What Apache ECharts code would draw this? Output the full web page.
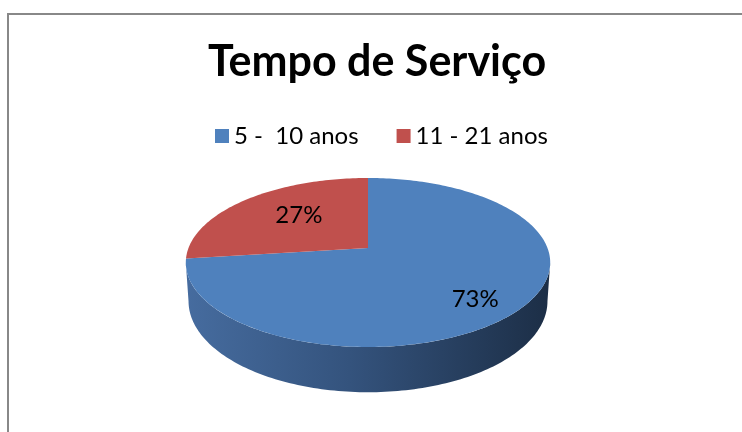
<!DOCTYPE html>
<html lang="pt">
<head>
    <meta charset="utf-8">
    <title>Tempo de Serviço</title>
    <script src="https://cdn.jsdelivr.net/npm/echarts@6/dist/echarts.min.js"></script>
    <style>
        html, body { margin: 0; padding: 0; background: #fff; }
        #chart { width: 742px; height: 432px; }
    </style>
</head>
<body>
<div id="chart"></div>
<script type="text/javascript">
    // dados
    var categories = ['5 -  10 anos', '11 - 21 anos'];
    var values = [73, 27];
    var colors = ['#4F81BD', '#C0504D'];

    // geometria da "pizza 3D" (perspectiva simples)
    var CX = 368, CY = 248, RX = 179.5, RY = 82, K = 0.1716, DEPTH = 37.5;
    var FRONT0 = Math.acos(-K), FRONT1 = 2 * Math.PI - FRONT0;
    var labelR = [0.73, 0.545];

    var total = 0;
    for (var i = 0; i < values.length; i++) total += values[i];

    function proj(theta, r, drop) {
        var u = Math.sin(theta) * r, v = -Math.cos(theta) * r;
        var w = 1 / (1 - K * v);
        var sx = drop ? 0.985 : 1;
        return [CX + RX * u * w * sx, CY + RY * v * w + (drop ? DEPTH * w : 0)];
    }

    function arc(a0, a1, drop) {
        var pts = [];
        var n = Math.max(2, Math.ceil((a1 - a0) / 0.02));
        for (var j = 0; j <= n; j++) {
            pts.push(proj(a0 + (a1 - a0) * j / n, 1, drop));
        }
        return pts;
    }

    function makeSlice(idx) {
        return function (params, api) {
            var val = api.value(0);
            var before = 0;
            for (var j = 0; j < idx; j++) before += values[j];
            var a0 = before / total * 2 * Math.PI;
            var a1 = (before + val) / total * 2 * Math.PI;
            var children = [];

            // parede lateral (só a parte da frente)
            var ta = Math.max(a0, FRONT0), tb = Math.min(a1, FRONT1);
            if (ta < tb) {
                var wall = arc(ta, tb, false).concat(arc(ta, tb, true).reverse());
                children.push({
                    type: 'polygon',
                    shape: { points: wall },
                    style: {
                        fill: new echarts.graphic.LinearGradient(0, 0, 1, 0, [
                            { offset: 0, color: '#466c9f' },
                            { offset: 0.45, color: '#34537d' },
                            { offset: 1, color: '#1c2e46' }
                        ])
                    }
                });
            }

            // face de cima
            var top = [[CX, CY]].concat(arc(a0, a1, false));
            children.push({
                type: 'polygon',
                shape: { points: top },
                style: { fill: colors[idx] }
            });

            // rótulo
            var mid = (a0 + a1) / 2;
            var u = Math.sin(mid) * labelR[idx], v = -Math.cos(mid) * labelR[idx];
            var w = 1 / (1 - K * v);
            children.push({
                type: 'text',
                style: {
                    text: Math.round(val / total * 100) + '%',
                    x: CX + RX * u * w,
                    y: CY + RY * 1.18 * v * w,
                    align: 'center',
                    verticalAlign: 'middle',
                    font: '24px Lato',
                    fill: '#000'
                }
            });
            return { type: 'group', children: children };
        };
    }

    var chart = echarts.init(document.getElementById('chart'));
    var series = [];
    for (var s = 0; s < categories.length; s++) {
        series.push({
            type: 'custom',
            name: categories[s],
            coordinateSystem: 'none',
            color: colors[s],
            silent: true,
            data: [values[s]],
            renderItem: makeSlice(s)
        });
    }

    chart.setOption({
        animation: false,
        color: colors,
        title: {
            text: 'Tempo de Serviço',
            left: 377,
            textAlign: 'center',
            top: 41,
            padding: 0,
            textStyle: { fontFamily: 'Lato', fontWeight: 'bold', fontSize: 43, color: '#000' }
        },
        legend: {
            left: 215,
            top: 124,
            padding: 0,
            icon: 'rect',
            itemWidth: 14,
            itemHeight: 14,
            itemGap: 38,
            data: categories,
            textStyle: { fontFamily: 'Lato', fontSize: 24, color: '#000' }
        },
        graphic: [{
            type: 'rect',
            shape: { x: 8, y: 14, width: 800, height: 500 },
            style: { fill: 'none', stroke: '#888', lineWidth: 2 },
            silent: true
        }],
        series: series
    });
</script>
</body>
</html>
